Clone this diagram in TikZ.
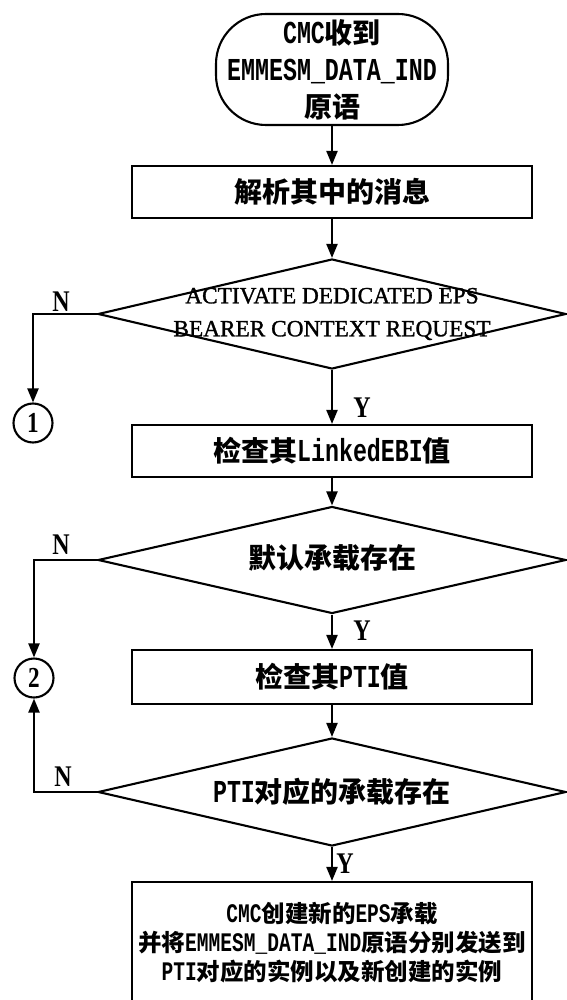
\documentclass[tikz,border=0pt]{standalone}
\usepackage{fontspec}
\setmainfont{Liberation Serif}
\newfontfamily\cjk{Noto Sans CJK SC}
\newfontfamily\hw[FakeStretch=0.73,Scale=1.14]{Liberation Mono}
\newfontfamily\lt[FakeStretch=0.8]{Liberation Serif}
\newfontfamily\tb[FakeBold=1.2]{Liberation Serif}
\newcommand{\z}[1]{{\cjk\bfseries #1}}
\usetikzlibrary{shapes.geometric,arrows.meta}
\begin{document}
\begin{tikzpicture}[x=1pt,y=-1pt,
  line width=2.1pt,
  box/.style={draw,rectangle,minimum width=400pt,minimum height=52pt,inner sep=0pt,font=\hw\bfseries\fontsize{28}{34}\selectfont},
  dia/.style={draw,diamond,minimum width=468pt,inner sep=0pt},
  lbl/.style={font=\hw\bfseries\fontsize{28}{37}\selectfont,inner sep=0pt,align=center},
  yn/.style={font=\lt\bfseries\fontsize{30}{30}\selectfont,inner sep=0pt},
  conn/.style={draw,circle,minimum size=39pt,inner sep=0pt,font=\lt\bfseries\fontsize{29}{29}\selectfont},
  arr/.style={-{Triangle[length=14pt,width=11pt]}},
]
\useasboundingbox (0,0) rectangle (566,1000);
\node[draw,rounded corners=50pt,minimum width=232pt,minimum height=111pt,lbl] (start) at (332,69.5) {CMC\z{收到}\\EMMESM\_DATA\_IND\\\z{原语}};
\node[box] (b1) at (332,192) {\z{解析其中的消息}};
\node[dia,minimum height=110pt] (d1) at (332,314) {};
\node[font=\tb\fontsize{23.3}{33}\selectfont,align=center,inner sep=0pt] (t1) at (332,314) {ACTIVATE DEDICATED EPS\\BEARER CONTEXT REQUEST};
\node[box] (b2) at (332,451) {\z{检查其}LinkedEBI\z{值}};
\node[dia,minimum height=107pt] (d2) at (332,560) {};
\node[lbl] (t2) at (332,558) {\z{默认承载存在}};
\node[box,minimum height=54pt] (b3) at (332,677) {\z{检查其}PTI\z{值}};
\node[dia,minimum height=108pt] (d3) at (332,792) {};
\node[lbl] (t3) at (332,792) {PTI\z{对应的承载存在}};
\node[box,minimum height=122pt,font=\hw\bfseries\fontsize{23.5}{29}\selectfont,align=center] (b4) at (332,943) {CMC\z{创建新的}EPS\z{承载}\\\z{并将}EMMESM\_DATA\_IND\z{原语分别发送到}\\PTI\z{对应的实例以及新创建的实例}};
\node[conn] (c1) at (33,423) {1};
\node[conn] (c2) at (34,678) {2};
\node[yn] (n1) at (61,302) {N};
\node[yn] (y1) at (362,408) {Y};
\node[yn] (n2) at (61,545) {N};
\node[yn] (y2) at (362,631) {Y};
\node[yn] (n3) at (63,777) {N};
\node[yn] (y3) at (345,864) {Y};
\draw[arr] (start) -- (b1);
\draw[arr] (b1) -- (d1);
\draw[arr] (d1) -- (b2);
\draw[arr] (b2) -- (d2);
\draw[arr] (d2) -- (b3);
\draw[arr] (b3) -- (d3);
\draw[arr] (d3) -- (b4);
\draw[arr] (d1.west) -| (c1);
\draw[arr] (d2.west) -| (c2);
\draw[arr] (d3.west) -| (c2);
\end{tikzpicture}
\end{document}
